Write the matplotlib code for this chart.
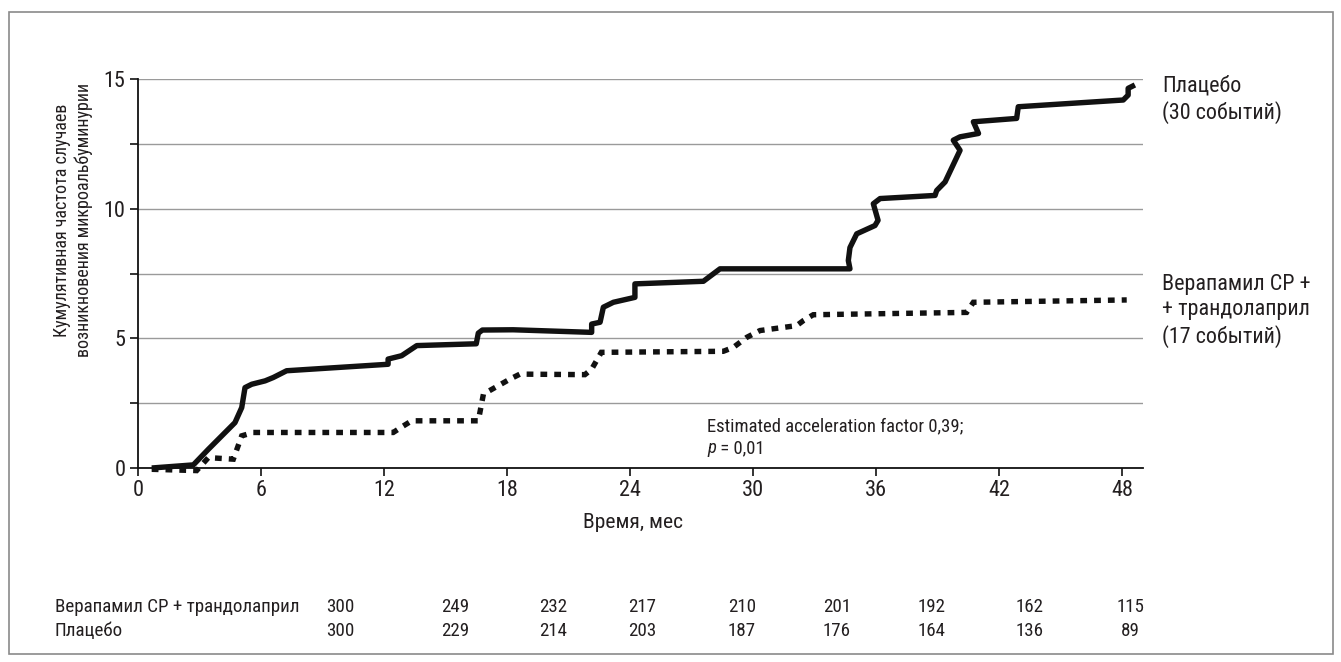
import matplotlib
matplotlib.use("Agg")
import matplotlib.pyplot as plt
from matplotlib import font_manager
from matplotlib.patches import Rectangle

# ---------------- data ----------------
placebo_x = [0.67, 2.7, 3.43, 4.73, 5.06, 5.22, 5.55, 6.2, 6.6, 7.25, 12.2, 12.2, 12.86,
             13.6, 16.5, 16.6, 16.8, 18.3, 22.13, 22.13, 22.54, 22.7, 23.19, 24.24, 24.24,
             27.58, 28.39, 34.73, 34.65, 34.73, 35.06, 35.95, 36.1, 35.87, 36.2, 38.88,
             38.96, 39.37, 40.1, 39.77, 40.1, 41.0, 40.75, 42.86, 42.94, 48.06, 48.3,
             48.3, 48.63]
placebo_y = [0.0, 0.12, 0.72, 1.75, 2.33, 3.1, 3.23, 3.36, 3.49, 3.75, 4.0, 4.2, 4.33,
             4.72, 4.79, 5.2, 5.32, 5.33, 5.23, 5.55, 5.62, 6.2, 6.39, 6.58, 7.1,
             7.2, 7.68, 7.68, 8.0, 8.5, 9.03, 9.35, 9.55, 10.19, 10.39, 10.51,
             10.7, 11.03, 12.25, 12.64, 12.77, 12.9, 13.35, 13.48, 13.93, 14.19, 14.38,
             14.64, 14.77]

verap_x = [0.67, 2.86, 3.43, 4.65, 5.06, 5.62, 12.45, 12.94, 13.35, 16.6, 16.85, 17.41,
           18.15, 18.63, 21.8, 22.13, 22.6, 28.55, 29.04, 29.7, 30.34, 32.13, 32.45,
           32.94, 40.42, 40.75, 48.23]
verap_y = [-0.05, -0.1, 0.4, 0.34, 1.24, 1.37, 1.37, 1.62, 1.82, 1.82, 2.85, 3.1,
           3.43, 3.62, 3.6, 3.81, 4.46, 4.5, 4.65, 5.04, 5.3, 5.49, 5.68,
           5.91, 6.0, 6.39, 6.48]

x_ticks = [0, 6, 12, 18, 24, 30, 36, 42, 48]
y_ticks = [0, 2.5, 5, 7.5, 10, 12.5, 15]
y_ticklabels = ["0", "", "5", "", "10", "", "15"]

row_labels = ["Верапамил СР + трандолаприл", "Плацебо"]
risk_verap = [300, 249, 232, 217, 210, 201, 192, 162, 115]
risk_placebo = [300, 229, 214, 203, 187, 176, 164, 136, 89]

label_placebo = "Плацебо\n(30 событий)"
label_verap = "Верапамил СР +\n+ трандолаприл\n(17 событий)"
ylabel_lines = ["Кумулятивная частота случаев", "возникновения микроальбуминурии"]
xlabel = "Время, мес"
annot1 = "Estimated acceleration factor 0,39;"
annot2 = " = 0,01"

# ---------------- fonts ----------------
names = {f.name for f in font_manager.fontManager.ttflist}
fam = None
for cand in ["Liberation Sans Narrow", "Roboto Condensed", "DejaVu Sans Condensed",
             "Liberation Sans", "Roboto"]:
    if cand in names:
        fam = cand
        break
plt.rcParams["font.family"] = [fam, "DejaVu Sans"]
TXT = "#231f20"

W, H = 1341, 662
fig = plt.figure(figsize=(W / 100, H / 100), dpi=100)
renderer = fig.canvas.get_renderer()


def fit_size(s, target_px, base=14.0, **kw):
    """font size that makes string s about target_px wide"""
    t = fig.text(0, 0, s, fontsize=base, **kw)
    w = t.get_window_extent(renderer).width
    t.remove()
    return base * target_px / w


def fx(px):
    return px / W


def fy(py):
    return 1 - py / H


fs_tick = 16.0
fs_ylab = max(fit_size(ylabel_lines[1], 262), 13.0)
fs_xlab = fit_size(xlabel, 100)
fs_right = fit_size("(30 событий)", 120)
fs_ann = fit_size(annot1, 258)
fs_tab = fit_size(row_labels[0], 245)

ax_left, ax_right, ax_top, ax_bot = 138, 1142.5, 79, 468
ax = fig.add_axes([fx(ax_left), fy(ax_bot), fx(ax_right - ax_left), (ax_bot - ax_top) / H])
ax.set_xlim(0, 49)
ax.set_ylim(0, 15)

ax.grid(axis="y", color="#9a9a9a", lw=1.0)
ax.set_axisbelow(True)
for s in ["top", "right"]:
    ax.spines[s].set_visible(False)
for s in ["left", "bottom"]:
    ax.spines[s].set_linewidth(1.3)
    ax.spines[s].set_color("#111111")

ax.set_xticks(x_ticks)
ax.set_yticks(y_ticks)
ax.set_yticklabels(y_ticklabels)
ax.tick_params(axis="both", direction="out", length=6, width=1.2, color="#111111",
               labelsize=fs_tick, labelcolor=TXT)
ax.tick_params(axis="x", pad=3)
ax.tick_params(axis="y", pad=3)

lw = 3.9
ax.plot(placebo_x, placebo_y, color="#111111", lw=lw, solid_joinstyle="round",
        solid_capstyle="butt", clip_on=False, zorder=3)
ax.plot(verap_x, verap_y, color="#111111", lw=lw, dashes=(1.25, 1.3),
        dash_capstyle="butt", dash_joinstyle="miter", clip_on=False, zorder=3)

# axis labels
fig.text(fx(73), fy(220), "\n".join(ylabel_lines), rotation=90, ha="center", va="center",
         fontsize=fs_ylab, color=TXT, linespacing=1.2, multialignment="center")
fig.text(fx(633), fy(523), xlabel, ha="center", va="center", fontsize=fs_xlab, color=TXT)

# right labels
fig.text(fx(1162), fy(100), label_placebo, ha="left", va="center", fontsize=fs_right,
         color=TXT, linespacing=1.25)
fig.text(fx(1162), fy(311), label_verap, ha="left", va="center", fontsize=fs_right,
         color=TXT, linespacing=1.25)

# annotation
fig.text(fx(707), fy(426), annot1, ha="left", va="center", fontsize=fs_ann, color=TXT)
tp = fig.text(fx(707), fy(448), "p", ha="left", va="center", fontsize=fs_ann,
              color=TXT, style="italic")
ax.annotate(annot2, xy=(1, 0), xycoords=tp, ha="left", va="bottom",
            fontsize=fs_ann, color=TXT, annotation_clip=False)

# risk table
col_px = [340, 455, 553, 642, 742, 837, 932, 1030, 1130]
row_py = [607, 631]
for rl, vals, py in zip(row_labels, [risk_verap, risk_placebo], row_py):
    fig.text(fx(55), fy(py), rl, ha="left", va="center", fontsize=fs_tab, color=TXT)
    for cx, v in zip(col_px, vals):
        fig.text(fx(cx), fy(py), str(v), ha="center", va="center", fontsize=fs_tab,
                 color=TXT)

# border
fig.patches.append(Rectangle((fx(9), fy(654)), fx(1333 - 9), (654 - 12) / H,
                             transform=fig.transFigure, fill=False,
                             edgecolor="#8a8a8a", lw=1.2))

fig.savefig("out.png", dpi=100)
